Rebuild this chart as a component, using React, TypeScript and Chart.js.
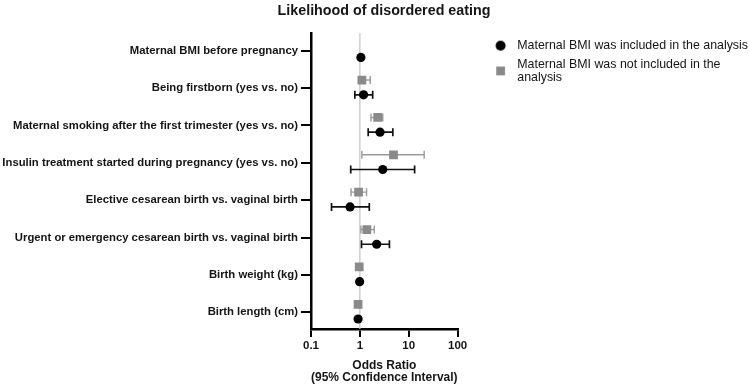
import React, { useEffect, useRef } from "react";
import { Chart, registerables } from "chart.js";

Chart.register(...registerables);

const categories = [
  "Maternal BMI before pregnancy",
  "Being firstborn (yes vs. no)",
  "Maternal smoking after the first trimester (yes vs. no)",
  "Insulin treatment started during pregnancy (yes vs. no)",
  "Elective cesarean birth vs. vaginal birth",
  "Urgent or emergency cesarean birth vs. vaginal birth",
  "Birth weight (kg)",
  "Birth length (cm)",
];

// Maternal BMI included in the analysis (black circles)
const includedOR = [1.05, 1.19, 2.59, 2.94, 0.63, 2.21, 0.99, 0.92];
const includedLow = [1.02, 0.79, 1.48, 0.65, 0.263, 1.08, 0.97, 0.9];
const includedHigh = [1.08, 1.83, 4.73, 13.2, 1.56, 4.03, 1.01, 0.94];

// Maternal BMI not included in the analysis (grey squares)
const notIncludedOR = [null, 1.1, 2.32, 4.88, 0.94, 1.39, 0.97, 0.92];
const notIncludedLow = [null, 0.95, 1.69, 1.1, 0.66, 1.05, 0.95, 0.9];
const notIncludedHigh = [null, 1.63, 2.94, 20.7, 1.37, 1.97, 0.99, 0.94];

const xTicks = [0.1, 1, 10, 100];

const seriesLabels = [
  "Maternal BMI was included in the analysis",
  "Maternal BMI was not included in the analysis",
];
const legendLines = [
  ["Maternal BMI was included in the analysis"],
  ["Maternal BMI was not included in the", "analysis"],
];

const titleText = "Likelihood of disordered eating";
const xTitle = ["Odds Ratio", "(95% Confidence Interval)"];

const FAM = 'Arial, "Liberation Sans", Helvetica, sans-serif';
const BLACK = "#000000";
const GREY = "#8a8a8a";
const TEXT = "#151515";

const errorBarPlugin = {
  id: "errorBars",
  afterLayout(chart: any) {
    // let long category labels run into the left padding instead of being clipped
    const y = chart.scales.y;
    if (y) y._computeLabelArea = () => null;
  },
  beforeDatasetsDraw(chart: any) {
    const { ctx, chartArea, scales } = chart;
    const xs = scales.x;
    const xr = xs.getPixelForValue(1);
    ctx.save();
    ctx.strokeStyle = "#c6c6c6";
    ctx.lineWidth = 1.3;
    ctx.beginPath();
    ctx.moveTo(xr, chartArea.top);
    ctx.lineTo(xr, chartArea.bottom);
    ctx.stroke();
    chart.data.datasets.forEach((ds: any, di: number) => {
      const meta = chart.getDatasetMeta(di);
      ctx.strokeStyle = ds.errColor;
      ctx.lineWidth = ds.errWidth;
      const cap = 4;
      meta.data.forEach((pt: any, i: number) => {
        const lo = ds.errLow[i];
        const hi = ds.errHigh[i];
        if (lo == null || hi == null || pt.skip) return;
        const y = pt.y;
        const x1 = xs.getPixelForValue(lo);
        const x2 = xs.getPixelForValue(hi);
        ctx.beginPath();
        ctx.moveTo(x1, y);
        ctx.lineTo(x2, y);
        ctx.moveTo(x1, y - cap);
        ctx.lineTo(x1, y + cap);
        ctx.moveTo(x2, y - cap);
        ctx.lineTo(x2, y + cap);
        ctx.stroke();
      });
    });
    ctx.restore();
  },
};

function makeMarker(kind: "circle" | "square", w: number, cx: number, dy: number) {
  const c = document.createElement("canvas");
  const h = Math.ceil(2 * (Math.abs(dy) + 6));
  c.width = Math.round(w);
  c.height = h;
  const g = c.getContext("2d")!;
  const cy = h / 2 + dy;
  if (kind === "circle") {
    g.fillStyle = BLACK;
    g.beginPath();
    g.arc(cx, cy, 5, 0, Math.PI * 2);
    g.fill();
  } else {
    g.fillStyle = GREY;
    g.fillRect(cx - 4.4, cy - 4.4, 8.8, 8.8);
  }
  return c;
}

export default function App() {
  const ref = useRef<HTMLCanvasElement>(null);

  useEffect(() => {
    if (!ref.current) return;
    const BOXW = 47;
    const markers = [
      makeMarker("circle", BOXW, 36.5, 0),
      makeMarker("square", BOXW, 36.5, 6.4),
    ];
    const OFF_INC = 0.18;
    const OFF_NOT = -0.214;

    const chart = new Chart(ref.current, {
      type: "scatter",
      data: {
        datasets: [
          {
            label: seriesLabels[0],
            data: includedOR.map((v, i) => ({ x: v, y: i + OFF_INC })),
            pointStyle: "circle",
            pointRadius: 4.6,
            pointHoverRadius: 4.6,
            pointBorderWidth: 0,
            backgroundColor: BLACK,
            borderColor: BLACK,
            errLow: includedLow,
            errHigh: includedHigh,
            errColor: "#111111",
            errWidth: 1.7,
          } as any,
          {
            label: seriesLabels[1],
            data: notIncludedOR.map((v, i) => ({ x: v, y: i + OFF_NOT })),
            pointStyle: "rect",
            pointRadius: 6.2,
            pointHoverRadius: 6.2,
            pointBorderWidth: 0,
            backgroundColor: GREY,
            borderColor: GREY,
            errLow: notIncludedLow,
            errHigh: notIncludedHigh,
            errColor: "#9a9a9a",
            errWidth: 1.4,
          } as any,
        ],
      },
      options: {
        animation: false,
        responsive: true,
        maintainAspectRatio: false,
        layout: { padding: { left: 10, right: -9, top: 0, bottom: 0 } },
        plugins: {
          tooltip: { enabled: false },
          title: {
            display: true,
            text: titleText,
            color: TEXT,
            font: { family: FAM, size: 14.3, weight: "bold", lineHeight: 1.2 },
            padding: { top: 2.1, bottom: 13.7 },
          },
          legend: {
            display: true,
            position: "right",
            align: "start",
            fullSize: false,
            maxWidth: 420,
            labels: {
              usePointStyle: true,
              pointStyleWidth: BOXW,
              padding: 6.5,
              color: TEXT,
              font: { family: FAM, size: 12.4, lineHeight: 1.08 },
              generateLabels: (ch: any) =>
                ch.data.datasets.map((ds: any, i: number) => ({
                  text: legendLines[i].length === 1 ? legendLines[i][0] : legendLines[i],
                  fillStyle: ds.backgroundColor,
                  strokeStyle: ds.borderColor,
                  lineWidth: 0,
                  hidden: false,
                  datasetIndex: i,
                  pointStyle: markers[i],
                  fontColor: TEXT,
                })),
            },
          },
        },
        scales: {
          x: {
            type: "logarithmic",
            position: "bottom",
            min: 0.1,
            max: 100,
            afterBuildTicks: (s: any) => {
              s.ticks = xTicks.map((v) => ({ value: v }));
            },
            afterFit: (s: any) => {
              s.height = 62;
            },
            ticks: {
              callback: (v: any) => String(v),
              color: TEXT,
              font: { family: FAM, size: 11.5, weight: "bold" },
              padding: 2,
              maxRotation: 0,
              autoSkip: false,
            },
            grid: {
              display: true,
              drawOnChartArea: false,
              drawTicks: true,
              tickLength: 8,
              color: BLACK,
              lineWidth: 2,
            },
            border: { display: true, color: BLACK, width: 2.5 },
            title: {
              display: true,
              text: xTitle,
              color: TEXT,
              font: { family: FAM, size: 12, weight: "bold", lineHeight: 1.02 },
              padding: { top: 0, bottom: 7.2 },
            },
          },
          y: {
            type: "linear",
            reverse: true,
            min: -0.474,
            max: 7.447,
            afterBuildTicks: (s: any) => {
              s.ticks = categories.map((_, i) => ({ value: i }));
            },
            afterFit: (s: any) => {
              s.width = 301;
            },
            ticks: {
              callback: (v: any) => categories[v as number],
              color: TEXT,
              font: { family: FAM, size: 11.3, weight: "bold" },
              padding: 3,
              autoSkip: false,
            },
            grid: {
              display: true,
              drawOnChartArea: false,
              drawTicks: true,
              tickLength: 10,
              color: BLACK,
              lineWidth: 2,
            },
            border: { display: true, color: BLACK, width: 2.5 },
          },
        },
      } as any,
      plugins: [errorBarPlugin],
    });
    return () => chart.destroy();
  }, []);

  return (
    <div style={{ position: "absolute", left: 0, top: 0, width: 749, height: 391, background: "#fff" }}>
      <canvas ref={ref} />
    </div>
  );
}
